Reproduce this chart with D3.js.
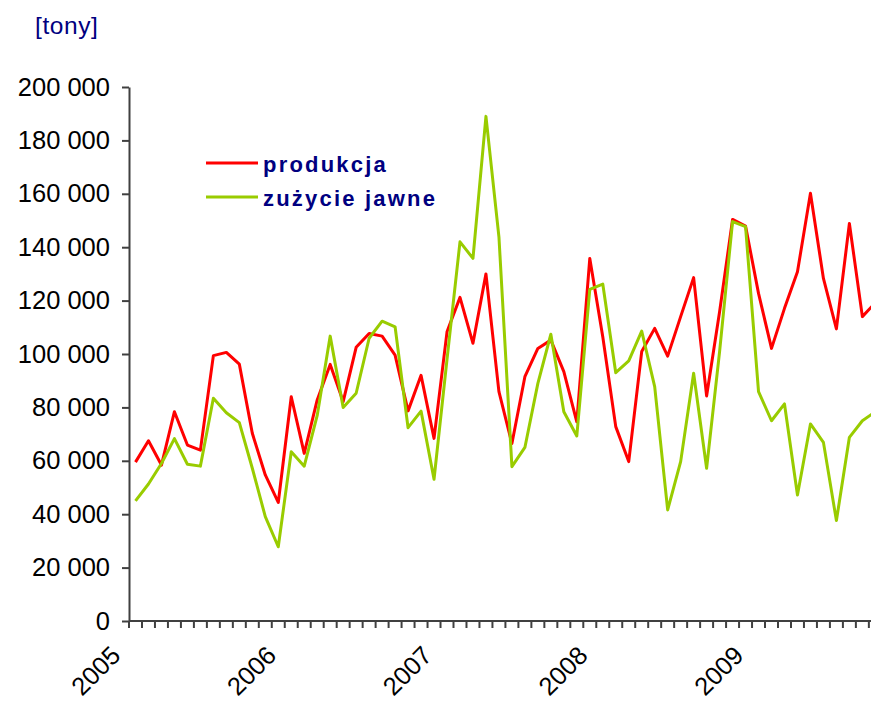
<!DOCTYPE html>
<html>
<head>
<meta charset="utf-8">
<script src="https://cdn.jsdelivr.net/npm/d3@7"></script>
<style>
  html, body { margin: 0; padding: 0; background: #fff; }
  svg { display: block; }
</style>
</head>
<body>
<svg id="chart" width="871" height="703"></svg>
<script>
// ---- data ----
const years = ["2005", "2006", "2007", "2008", "2009"];
const monthsPerYear = 12;
const unitLabel = "[tony]";
const seriesNames = ["produkcja", "zużycie jawne"];
const yTicks = [0, 20000, 40000, 60000, 80000, 100000, 120000, 140000, 160000, 180000, 200000];

const produkcja = [
  59500, 67500, 58400, 78400, 65900, 64000, 99400, 100600, 96200, 70300, 54700, 44400,
  84000, 62800, 82800, 96100, 82200, 102500, 107700, 106700, 99600, 78700, 92000, 68400,
  108300, 121200, 104000, 130000, 85900, 66500, 91500, 102100, 105200, 93400, 74600, 135800,
  106500, 72800, 59700, 100900, 109600, 99200, 114000, 128600, 84300, 115800, 150400, 147900,
  122700, 102100, 117100, 130800, 160200, 128300, 109400, 148900, 114000, 119200
];
const zuzycie = [
  45000, 51300, 59000, 68300, 58700, 58000, 83400, 78000, 74300, 57200, 39100, 27800,
  63400, 58000, 77000, 106700, 80000, 85300, 105900, 112300, 110200, 72400, 78600, 53100,
  98000, 142000, 135800, 189000, 143900, 57800, 65000, 89000, 107400, 78400, 69300, 124200,
  126200, 93000, 97400, 108600, 87800, 41600, 59700, 92800, 57200, 100900, 149600, 147700,
  85900, 75000, 81300, 47200, 73800, 66900, 37600, 68800, 75000, 78400
];
const colors = ["#ff0000", "#99cc00"];

// categories: one per month
const months = [];
years.forEach(yr => { for (let m = 1; m <= monthsPerYear; m++) months.push(yr + "-" + String(m).padStart(2, "0")); });

// ---- layout ----
const W = 871, H = 703;
const padL = 129, padT = 87, axisY = 621;
const step = 12.98;
const svg = d3.select("#chart");
const font = "'Liberation Sans', Arial, sans-serif";

const x = d3.scaleBand().domain(months).range([padL, padL + months.length * step]).paddingInner(0).paddingOuter(0);
const y = d3.scaleLinear().domain([0, 200000]).range([axisY, padT]);

const loc = d3.formatLocale({ decimal: ",", thousands: " ", grouping: [3], currency: ["", ""] });
const fmt = loc.format(",d");

// y axis
const yAxis = svg.append("g").attr("transform", `translate(${padL},0)`)
  .call(d3.axisLeft(y).tickValues(yTicks).tickFormat(fmt).tickSize(7).tickPadding(12).tickSizeOuter(0));
yAxis.select(".domain").attr("stroke", "#404040").attr("stroke-width", 2);
yAxis.selectAll(".tick line").attr("stroke", "#404040").attr("stroke-width", 2);
yAxis.selectAll(".tick text").attr("font-family", font).attr("font-size", 25.5).attr("fill", "#000");

// x axis: line + ticks at month boundaries
const xg = svg.append("g");
xg.append("line").attr("x1", padL).attr("x2", W).attr("y1", y(0)).attr("y2", y(0))
  .attr("stroke", "#404040").attr("stroke-width", 2);
xg.selectAll("line.tk").data(months).enter().append("line").attr("class", "tk")
  .attr("x1", d => x(d)).attr("x2", d => x(d))
  .attr("y1", y(0)).attr("y2", y(0) + 7)
  .attr("stroke", "#404040").attr("stroke-width", 2);

// year labels
xg.selectAll("text.yr").data(years).enter().append("text").attr("class", "yr")
  .attr("transform", d => `translate(${x(d + "-01") - 7},${657}) rotate(-45)`)
  .attr("text-anchor", "end")
  .attr("font-family", font).attr("font-size", 25.5).attr("fill", "#000")
  .text(d => d);

// unit label
svg.append("text").attr("x", 35).attr("y", 34)
  .attr("font-family", font).attr("font-size", 24.5).attr("letter-spacing", 0.6)
  .attr("fill", "#000080").text(unitLabel);

// lines
const line = d3.line().x((d, i) => x(months[i]) + x.bandwidth() / 2).y(d => y(d));
[produkcja, zuzycie].forEach((s, k) => {
  svg.append("path").datum(s).attr("d", line)
    .attr("fill", "none").attr("stroke", colors[k]).attr("stroke-width", 3)
    .attr("stroke-linejoin", "round");
});

// legend
const lg = svg.append("g");
seriesNames.forEach((n, k) => {
  const ly = 163 + k * 34;
  lg.append("line").attr("x1", 206).attr("x2", 258).attr("y1", ly).attr("y2", ly)
    .attr("stroke", colors[k]).attr("stroke-width", 3);
  lg.append("text").attr("x", 263).attr("y", ly + 8.5)
    .attr("font-family", font).attr("font-size", 22).attr("font-weight", "bold")
    .attr("letter-spacing", 2.2).attr("fill", "#000080").text(n);
});
</script>
</body>
</html>
